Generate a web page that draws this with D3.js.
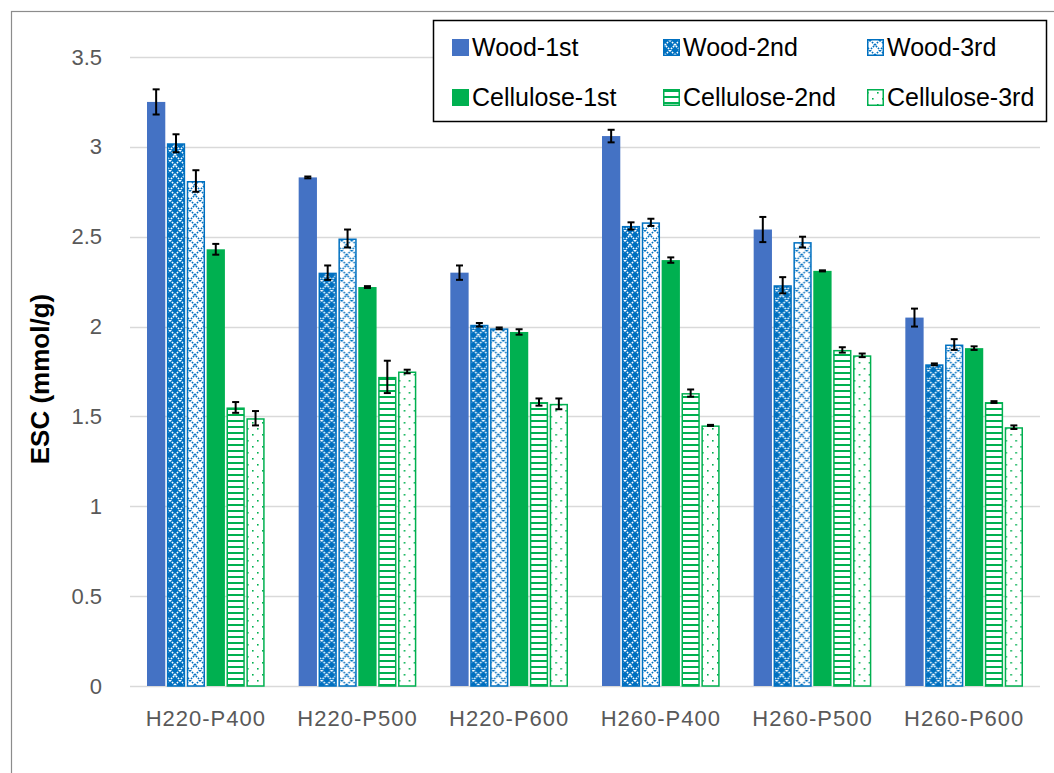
<!DOCTYPE html>
<html>
<head>
<meta charset="utf-8">
<script src="https://cdn.jsdelivr.net/npm/d3@7"></script>
<style>
	body{ margin:0; background:#fff; }
	svg{ display:block; font-family:"Liberation Sans", Arial, sans-serif; }
</style>
</head>
<body>
<div id="chart"></div>
<script>
// categories / series
var categories = ["H220-P400", "H220-P500", "H220-P600", "H260-P400", "H260-P500", "H260-P600"];
var seriesNames = ["Wood-1st", "Wood-2nd", "Wood-3rd", "Cellulose-1st", "Cellulose-2nd", "Cellulose-3rd"];
// mean ESC values, one array per series (same order as categories)
var wood1st = [3.25, 2.83, 2.30, 3.06, 2.54, 2.05];
var wood2nd = [3.02, 2.30, 2.01, 2.56, 2.23, 1.79];
var wood3rd = [2.81, 2.49, 1.99, 2.58, 2.47, 1.90];
var cell1st = [2.43, 2.22, 1.97, 2.37, 2.31, 1.88];
var cell2nd = [1.55, 1.72, 1.58, 1.63, 1.87, 1.58];
var cell3rd = [1.49, 1.75, 1.57, 1.45, 1.84, 1.44];
// error (+/-)
var wood1stErr = [0.07, 0.005, 0.04, 0.035, 0.07, 0.05];
var wood2ndErr = [0.05, 0.04, 0.01, 0.02, 0.045, 0.005];
var wood3rdErr = [0.06, 0.05, 0.005, 0.02, 0.03, 0.03];
var cell1stErr = [0.03, 0.005, 0.015, 0.015, 0.003, 0.01];
var cell2ndErr = [0.03, 0.09, 0.02, 0.02, 0.015, 0.005];
var cell3rdErr = [0.04, 0.01, 0.03, 0.003, 0.01, 0.01];
var yTicks = [0, 0.5, 1, 1.5, 2, 2.5, 3, 3.5];

;(function(d3){
	var width = 1054,
		height = 773;
	var values = [wood1st, wood2nd, wood3rd, cell1st, cell2nd, cell3rd],
		errors = [wood1stErr, wood2ndErr, wood3rdErr, cell1stErr, cell2ndErr, cell3rdErr];
	var blue = "#4472C4",
		blue2 = "#0070C0",
		green = "#00B050",
		fills = ["solid-blue", "url(#p-w2)", "url(#p-w3)", "solid-green", "url(#p-c2)", "url(#p-c3)"],
		strokes = ["none", blue2, blue2, "none", green, green];

	var svg = d3.select("#chart").append("svg")
		.attr("width", width)
		.attr("height", height);

	/*********** patterns ***********/
	var defs = svg.append("defs");
	function lattice(id, bg, fg){
		var p = defs.append("pattern").attr("id", id)
			.attr("patternUnits", "userSpaceOnUse")
			.attr("width", 10).attr("height", 10);
		p.append("rect").attr("width", 10).attr("height", 10).attr("fill", bg);
		// dotted diagonals -> diamond lattice
		p.append("path").attr("d", "M0,0 L10,10 M10,0 L0,10")
			.attr("stroke", fg).attr("stroke-width", 1.6)
			.attr("stroke-dasharray", "1.6,1.2").attr("fill", "none");
	}
	lattice("p-w2", blue2, "#fff");
	lattice("p-w3", "#fff", blue2);
	var c2 = defs.append("pattern").attr("id", "p-c2")
		.attr("patternUnits", "userSpaceOnUse")
		.attr("width", 8).attr("height", 6);
	c2.append("rect").attr("width", 8).attr("height", 6).attr("fill", "#fff");
	c2.append("rect").attr("y", 0).attr("width", 8).attr("height", 2).attr("fill", green);
	var c3 = defs.append("pattern").attr("id", "p-c3")
		.attr("patternUnits", "userSpaceOnUse")
		.attr("width", 10).attr("height", 12);
	c3.append("rect").attr("width", 10).attr("height", 12).attr("fill", "#fff");
	c3.append("rect").attr("x", 2).attr("y", 2).attr("width", 1.6).attr("height", 1.6).attr("fill", green);
	c3.append("rect").attr("x", 7).attr("y", 8).attr("width", 1.6).attr("height", 1.6).attr("fill", green);

	function fillOf(i){
		if(fills[i] == "solid-blue") return blue;
		if(fills[i] == "solid-green") return green;
		return fills[i];
	}

	// outer frame
	svg.append("rect").attr("x", 11.5).attr("y", 11.5)
		.attr("width", width + 20).attr("height", height + 20)
		.attr("fill", "none").attr("stroke", "#8c8c8c").attr("stroke-width", 1.2);

	/*********** scales ***********/
	var x = d3.scaleBand().domain(categories).range([130, 1040]),
		xs = d3.scaleBand().domain(d3.range(6)).range([17, x.bandwidth() - 17]).paddingInner(0.08),
		y = d3.scaleLinear().domain([0, 3.5]).range([686, 57]);

	// gridlines
	svg.append("g").selectAll("line").data(yTicks).enter().append("line")
		.attr("x1", 130).attr("x2", 1040)
		.attr("y1", function(d){ return Math.round(y(d)) + 0.5; })
		.attr("y2", function(d){ return Math.round(y(d)) + 0.5; })
		.attr("stroke", "#d9d9d9").attr("stroke-width", 1.5);

	// y axis labels
	var yAxis = d3.axisLeft(y).tickValues(yTicks).tickSize(0).tickPadding(0)
		.tickFormat(function(d){ return d3.format("")(d); });
	var ga = svg.append("g").attr("transform", "translate(102,0)").call(yAxis);
	ga.select(".domain").remove();
	ga.selectAll("text").attr("fill", "#595959").attr("font-size", 22)
		.attr("font-family", "Liberation Sans, Arial, sans-serif");

	// x axis labels
	var xAxis = d3.axisBottom(x).tickSize(0).tickPadding(0);
	var gx = svg.append("g").attr("transform", "translate(0,710)").call(xAxis);
	gx.select(".domain").remove();
	gx.selectAll("text").attr("fill", "#595959").attr("font-size", 22)
		.attr("letter-spacing", 1)
		.attr("font-family", "Liberation Sans, Arial, sans-serif");

	// y title
	svg.append("text")
		.attr("transform", "translate(49,379) rotate(-90)")
		.attr("text-anchor", "middle")
		.attr("font-size", 26).attr("font-weight", "bold").attr("fill", "#000")
		.text("ESC (mmol/g)");

	/*********** bars ***********/
	var groups = svg.append("g").selectAll("g").data(categories).enter().append("g")
		.attr("transform", function(d){ return "translate(" + x(d) + ",0)"; });
	groups.each(function(cat, ci){
		var g = d3.select(this);
		values.forEach(function(vals, si){
			var v = vals[ci],
				bx = xs(si),
				bw = xs.bandwidth();
			var hasStroke = strokes[si] != "none";
			g.append("rect")
				.attr("x", bx + (hasStroke ? 0.75 : 0))
				.attr("y", y(v) + (hasStroke ? 0.75 : 0))
				.attr("width", bw - (hasStroke ? 1.5 : 0))
				.attr("height", y(0) - y(v) - (hasStroke ? 0.75 : 0))
				.attr("fill", fillOf(si))
				.attr("stroke", strokes[si])
				.attr("stroke-width", 1.5);
		});
		// error bars
		values.forEach(function(vals, si){
			var v = vals[ci],
				e = errors[si][ci],
				cx = xs(si) + xs.bandwidth() / 2;
			var top = y(v + e),
				bot = y(v - e);
			var eb = g.append("g").attr("stroke", "#000").attr("stroke-width", 2);
			eb.append("line").attr("x1", cx).attr("x2", cx).attr("y1", top).attr("y2", bot);
			eb.append("line").attr("x1", cx - 3.5).attr("x2", cx + 3.5).attr("y1", top).attr("y2", top);
			eb.append("line").attr("x1", cx - 3.5).attr("x2", cx + 3.5).attr("y1", bot).attr("y2", bot);
		});
	});

	/*********** legend ***********/
	var legend = svg.append("g");
	legend.append("rect").attr("x", 433.5).attr("y", 20.5)
		.attr("width", 613).attr("height", 101)
		.attr("fill", "#fff").attr("stroke", "#000").attr("stroke-width", 1.5);
	var colX = [452, 663, 867],
		rowY = [39, 89];
	seriesNames.forEach(function(name, i){
		var lx = colX[i % 3],
			ly = rowY[Math.floor(i / 3)];
		var hasStroke = strokes[i] != "none";
		legend.append("rect")
			.attr("x", lx + (hasStroke ? 0.75 : 0)).attr("y", ly + (hasStroke ? 0.75 : 0))
			.attr("width", hasStroke ? 15.5 : 17).attr("height", hasStroke ? 15.5 : 17)
			.attr("fill", fillOf(i))
			.attr("stroke", strokes[i]).attr("stroke-width", 1.5);
		legend.append("text")
			.attr("x", lx + 20).attr("y", ly + 17)
			.attr("font-size", 25).attr("fill", "#000")
			.text(name);
	});
})(d3);
</script>
</body>
</html>
